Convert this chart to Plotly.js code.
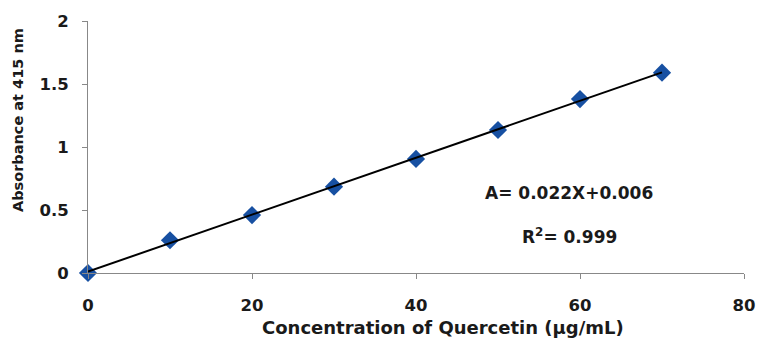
<!DOCTYPE html>
<html><head><meta charset="utf-8">
<script src="https://cdn.plot.ly/plotly-3.0.1.min.js"></script>
<style>html,body{margin:0;padding:0;background:#fff}#c{width:763px;height:342px}</style>
</head><body><div id="c"></div>
<script>
const concentration = [0, 10, 20, 30, 40, 50, 60, 70];
const absorbance = [0, 0.26, 0.46, 0.685, 0.905, 1.135, 1.38, 1.59];
const xTicks = [0, 20, 40, 60, 80];
const yTicks = [0, 0.5, 1, 1.5, 2];
const yTickLabels = ['0', '0.5', '1', '1.5', '2'];
const equationText = 'A= 0.022X+0.006';
const r2Text = 'R<sup>2</sup>= 0.999';

// least-squares trendline from the data
const n = concentration.length;
const mx = concentration.reduce((a,b)=>a+b,0)/n;
const my = absorbance.reduce((a,b)=>a+b,0)/n;
let sxy=0, sxx=0;
for (let i=0;i<n;i++){ sxy+=(concentration[i]-mx)*(absorbance[i]-my); sxx+=(concentration[i]-mx)**2; }
const slope = sxy/sxx, icpt = my - slope*mx;
const xFit = [concentration[0], concentration[n-1]];
const yFit = xFit.map(x=>icpt+slope*x);

const font = '"DejaVu Sans", sans-serif';
const txt = '#1a1a1a';
const data = [
  {x: concentration, y: absorbance, mode:'markers', type:'scatter',
   marker:{symbol:'diamond', size:14, color:'#1750A2'}, cliponaxis:false, showlegend:false},
  {x: xFit, y: yFit, mode:'lines', type:'scatter', line:{color:'#000', width:2}, showlegend:false, cliponaxis:false}
];
const layout = {
  width:763, height:342, margin:{l:88, r:19, t:21, b:69},
  paper_bgcolor:'#fff', plot_bgcolor:'#fff',
  font:{family:font, size:15, color:txt},
  xaxis:{range:[0,80], tickvals:xTicks, ticks:'outside', ticklen:5, tickcolor:'#888',
    showline:true, linecolor:'#888', linewidth:1, showgrid:false, zeroline:false,
    tickfont:{family:font, size:16.5, color:txt, weight:'bold'}, ticklabelstandoff:12},
  yaxis:{range:[0,2], tickvals:yTicks, ticktext:yTickLabels, ticks:'outside', ticklen:5, tickcolor:'#888',
    showline:true, linecolor:'#888', linewidth:1, showgrid:false, zeroline:false,
    tickfont:{family:font, size:16.5, color:txt, weight:'bold'}, ticklabelstandoff:10},
  annotations:[
    {text:'Concentration of Quercetin (µg/mL)', xref:'paper', yref:'paper', x:(443-88)/656, y:(342-69-327)/252,
     showarrow:false, xanchor:'center', yanchor:'middle', font:{family:font, size:18, color:txt, weight:'bold'}},
    {text:'Absorbance at 415 nm', xref:'paper', yref:'paper', x:(18-88)/656, y:(273-120)/252, textangle:-90,
     showarrow:false, xanchor:'center', yanchor:'middle', font:{family:font, size:14.5, color:txt, weight:'bold'}},
    {text:equationText, xref:'paper', yref:'paper', x:(569-88)/656, y:(273-193)/252,
     showarrow:false, xanchor:'center', yanchor:'middle', font:{family:font, size:17, color:txt, weight:'bold'}},
    {text:r2Text, xref:'paper', yref:'paper', x:(569-88)/656, y:(273-236)/252,
     showarrow:false, xanchor:'center', yanchor:'middle', font:{family:font, size:17, color:txt, weight:'bold'}}
  ]
};
Plotly.newPlot('c', data, layout, {displayModeBar:false, staticPlot:true});
</script></body></html>
